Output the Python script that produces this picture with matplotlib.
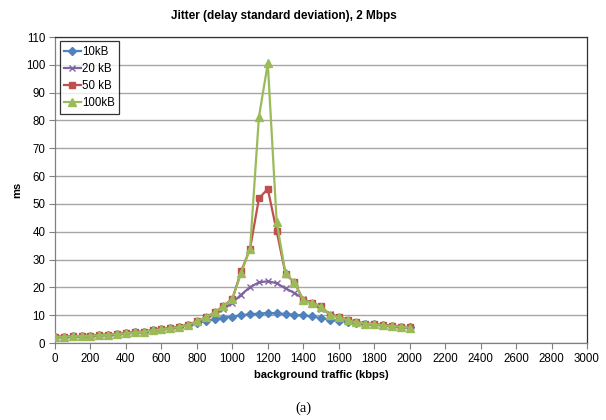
import matplotlib

matplotlib.use("Agg")
import matplotlib.pyplot as plt
import numpy as np

plt.rcParams["font.family"] = ["Liberation Sans", "DejaVu Sans"]

# background traffic, kbps (one sample every 50 kbps)
traffic = np.arange(0, 2001, 50)

low = [2.2, 2.3, 2.4, 2.5, 2.6, 2.8, 3.0, 3.2, 3.5, 3.8, 4.1, 4.5, 4.9, 5.3, 5.8, 6.5]

jitter_10k = low + [7.2, 7.9, 8.5, 9.1, 9.5, 10.0, 10.3, 10.6, 10.8, 10.7, 10.4, 10.2, 9.9,
                    9.6, 8.9, 8.4, 8.0, 7.6, 7.3, 7.0, 6.7, 6.4, 6.1, 5.9, 5.6]
jitter_20k = low + [7.6, 8.8, 10.3, 12.2, 14.5, 17.4, 20.1, 21.8, 22.2, 21.5, 19.6, 18.0, 16.0,
                    14.0, 12.3, 10.5, 9.4, 8.3, 7.5, 7.0, 6.7, 6.4, 6.1, 5.9, 5.6]
jitter_50k = low + [7.8, 9.2, 11.0, 13.3, 15.9, 25.8, 33.9, 52.0, 55.4, 40.2, 24.8, 21.8, 15.5,
                    14.4, 13.2, 10.2, 9.3, 8.4, 7.5, 7.0, 6.7, 6.4, 6.2, 5.9, 5.6]
jitter_100k = low + [7.8, 9.2, 11.0, 13.3, 15.7, 25.3, 33.9, 81.3, 100.5, 43.5, 25.0, 21.8, 15.3,
                     14.3, 13.1, 10.1, 9.3, 8.2, 7.4, 7.0, 6.7, 6.4, 6.1, 5.9, 5.5]

series = [
    ("10kB", jitter_10k, "#4F81BD", "D", 4.0),
    ("20 kB", jitter_20k, "#8064A2", "x", 5.0),
    ("50 kB", jitter_50k, "#C0504D", "s", 5.0),
    ("100kB", jitter_100k, "#9BBB59", "^", 5.5),
]

fig = plt.figure(figsize=(6.06, 4.2), dpi=100)
ax = fig.add_axes([0.0908, 0.1833, 0.8778, 0.7286])

for label, values, color, marker, msize in series:
    ax.plot(traffic, values, color=color, lw=1.6, marker=marker, markersize=msize,
            markeredgewidth=1.0, label=label, zorder=3)

ax.set_xlim(0, 3000)
ax.set_ylim(0, 110)
ax.set_xticks(np.arange(0, 3001, 200))
ax.set_yticks(np.arange(0, 111, 10))
ax.yaxis.grid(True, color="#A6A6A6", lw=1.0, zorder=0)
ax.tick_params(labelsize=8.3, length=4, width=0.8, color="#808080", pad=3)

for side in ("left", "bottom"):
    ax.spines[side].set_color("#808080")
    ax.spines[side].set_linewidth(0.9)
for side in ("top", "right"):
    ax.spines[side].set_color("#303030")
    ax.spines[side].set_linewidth(0.9)

ax.set_xlabel("background traffic (kbps)", fontsize=8, fontweight="bold", labelpad=4)
ax.set_ylabel("ms", fontsize=8, fontweight="bold", labelpad=3)

fig.text(0.469, 0.962, "Jitter (delay standard deviation), 2 Mbps", ha="center", va="center",
         fontsize=8.5, fontweight="bold")
fig.text(0.5, 0.028, "(a)", ha="center", va="center", fontsize=10.5,
         family=["Liberation Serif", "DejaVu Serif"])

leg = ax.legend(loc="upper left", bbox_to_anchor=(0.009, 0.987), fontsize=8.3, frameon=True,
                fancybox=False, edgecolor="black", handlelength=1.4, handletextpad=0.12,
                borderpad=0.4, labelspacing=0.45, borderaxespad=0.0)
leg.get_frame().set_linewidth(0.9)

fig.savefig("out.png", dpi=100)
